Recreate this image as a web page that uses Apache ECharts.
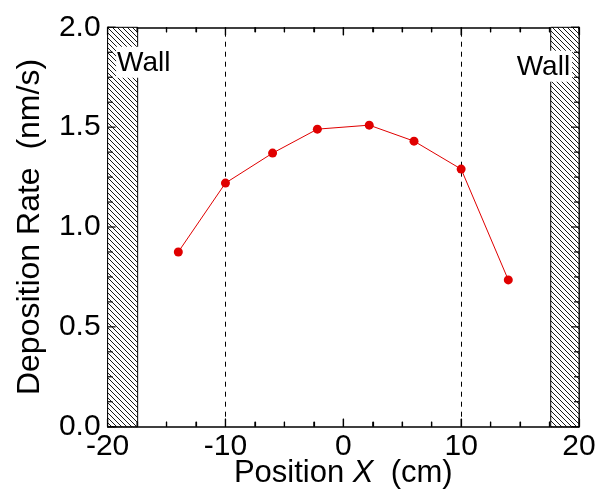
<!DOCTYPE html>
<html>
<head>
<meta charset="utf-8">
<script src="https://cdn.jsdelivr.net/npm/echarts@6/dist/echarts.min.js"></script>
<style>
html,body{margin:0;padding:0;background:#fff;}
#main{width:607px;height:491px;}
</style>
</head>
<body>
<div id="main"></div>
<script>
var positionX=[-14,-10,-6,-2.2,2.2,6,10,14];
var depositionRate=[0.875,1.22,1.37,1.49,1.51,1.43,1.29,0.735];
var wallLeft=[-20,-17.45];
var wallRight=[17.6,20];
var guideLines=[-10,10];
var xRange=[-20,20];
var yRange=[0,2];
var majorTicksX=[-20,-10,0,10,20];
var minorTicksX=[-17.5,-15,-12.5,-7.5,-5,-2.5,2.5,5,7.5,12.5,15,17.5];
var majorTicksY=[0,0.5,1,1.5,2];
var minorTicksY=[0.125,0.25,0.375,0.625,0.75,0.875,1.125,1.25,1.375,1.625,1.75,1.875];

// hatch pattern for walls
function hatch() {
    var c=document.createElement('canvas');
    c.width=5;c.height=5;
    var ctx=c.getContext('2d');
    ctx.fillStyle='#fff';
    ctx.fillRect(0,0,5,5);
    ctx.strokeStyle='#000';
    ctx.lineWidth=0.9;
    ctx.beginPath();
    ctx.moveTo(-1,-1);ctx.lineTo(6,6);
    ctx.moveTo(-1,4);ctx.lineTo(1,6);
    ctx.moveTo(4,-1);ctx.lineTo(6,1);
    ctx.stroke();
    return c;
}

var myChart=echarts.init(document.getElementById('main'));
var font='Liberation Sans, Arial, sans-serif';
var pattern={image:hatch(),repeat:'repeat'};

function axisOpt(min,max,interval,pos) {
    return {
        type:'value',min:min,max:max,interval:interval,position:pos,
        axisLine:{show:true,onZero:false,lineStyle:{color:'#000',width:1.5}},
        axisTick:{show:true,inside:true,length:8,lineStyle:{color:'#000',width:1.2}},
        minorTick:{show:true,splitNumber:4,length:5,lineStyle:{color:'#000',width:1.2}},
        splitLine:{show:false},
        minorSplitLine:{show:false},
        axisLabel:{show:false}
    };
}

// inward ticks on both edges, one item per tick end
function tickSeries(values,len,vertical) {
    var data=[];
    values.forEach(function(v){
        if(vertical){data.push([v,yRange[0]]);data.push([v,yRange[1]]);}
        else{data.push([xRange[0],v]);data.push([xRange[1],v]);}
    });
    return {
        type:'custom',
        clip:false,
        z:6,
        data:data,
        renderItem:function(params,api){
            var x=api.value(0),y=api.value(1);
            var p=api.coord([x,y]);
            var shape;
            if(vertical){
                var dy=(y==yRange[0])?-len:len;
                shape={x1:p[0],y1:p[1],x2:p[0],y2:p[1]+dy};
            }else{
                var dx=(x==xRange[0])?len:-len;
                shape={x1:p[0],y1:p[1],x2:p[0]+dx,y2:p[1]};
            }
            return {type:'line',shape:shape,style:{stroke:'#000',lineWidth:1.2}};
        }
    };
}

var xBottom=axisOpt(xRange[0],xRange[1],10,'bottom');
xBottom.axisLabel={show:true,fontFamily:font,fontSize:30,color:'#000',margin:5};
xBottom.name='{a|Position }{i|X}{a|  (cm)}';
xBottom.nameLocation='middle';
xBottom.nameGap=31;
xBottom.nameMoveOverlap=false;
xBottom.nameTextStyle={rich:{
    a:{fontFamily:font,fontSize:31,lineHeight:31,color:'#000'},
    i:{fontFamily:font,fontSize:31,lineHeight:31,fontStyle:'italic',color:'#000'}
}};
var yLeft=axisOpt(yRange[0],yRange[1],0.5,'left');
yLeft.axisLabel={show:true,fontFamily:font,fontSize:30,color:'#000',margin:7,
    formatter:function(v){return v.toFixed(1);}};
yLeft.name='Deposition Rate  (nm/s)';
yLeft.nameLocation='middle';
yLeft.nameGap=61;
yLeft.nameMoveOverlap=false;
yLeft.nameTextStyle={fontFamily:font,fontSize:32,color:'#000'};

var option={
    backgroundColor:'#fff',
    animation:false,
    grid:{left:107.6,right:28,top:27.3,bottom:64.3,outerBoundsMode:'none'},
    xAxis:[xBottom,axisOpt(xRange[0],xRange[1],10,'top')],
    yAxis:[yLeft,axisOpt(yRange[0],yRange[1],0.5,'right')],
    series:[
        {
            type:'line',
            data:positionX.map(function(x,i){return [x,depositionRate[i]];}),
            symbol:'circle',
            symbolSize:9,
            lineStyle:{color:'#e00000',width:1},
            itemStyle:{color:'#e00000'},
            z:5,
            markLine:{
                silent:true,
                symbol:'none',
                label:{show:false},
                lineStyle:{color:'#000',type:[5,5],width:1},
                data:guideLines.map(function(x){return {xAxis:x};})
            },
            markArea:{
                silent:true,
                itemStyle:{color:pattern,borderColor:'#000',borderWidth:1},
                label:{show:true,fontFamily:font,fontSize:28,color:'#000',
                    backgroundColor:'#fff',padding:[2,2,1,1]},
                data:[
                    [{xAxis:wallLeft[0],yAxis:0,label:{position:[9,20]}},{xAxis:wallLeft[1],yAxis:2,name:'Wall'}],
                    [{xAxis:wallRight[0],yAxis:0,label:{position:[-34.5,24]}},{xAxis:wallRight[1],yAxis:2,name:'Wall'}]
                ]
            }
        },
        tickSeries(majorTicksX,8,true),
        tickSeries(minorTicksX,5,true),
        tickSeries(majorTicksY,8,false),
        tickSeries(minorTicksY,5,false)
    ]
};
myChart.setOption(option);
</script>
</body>
</html>
